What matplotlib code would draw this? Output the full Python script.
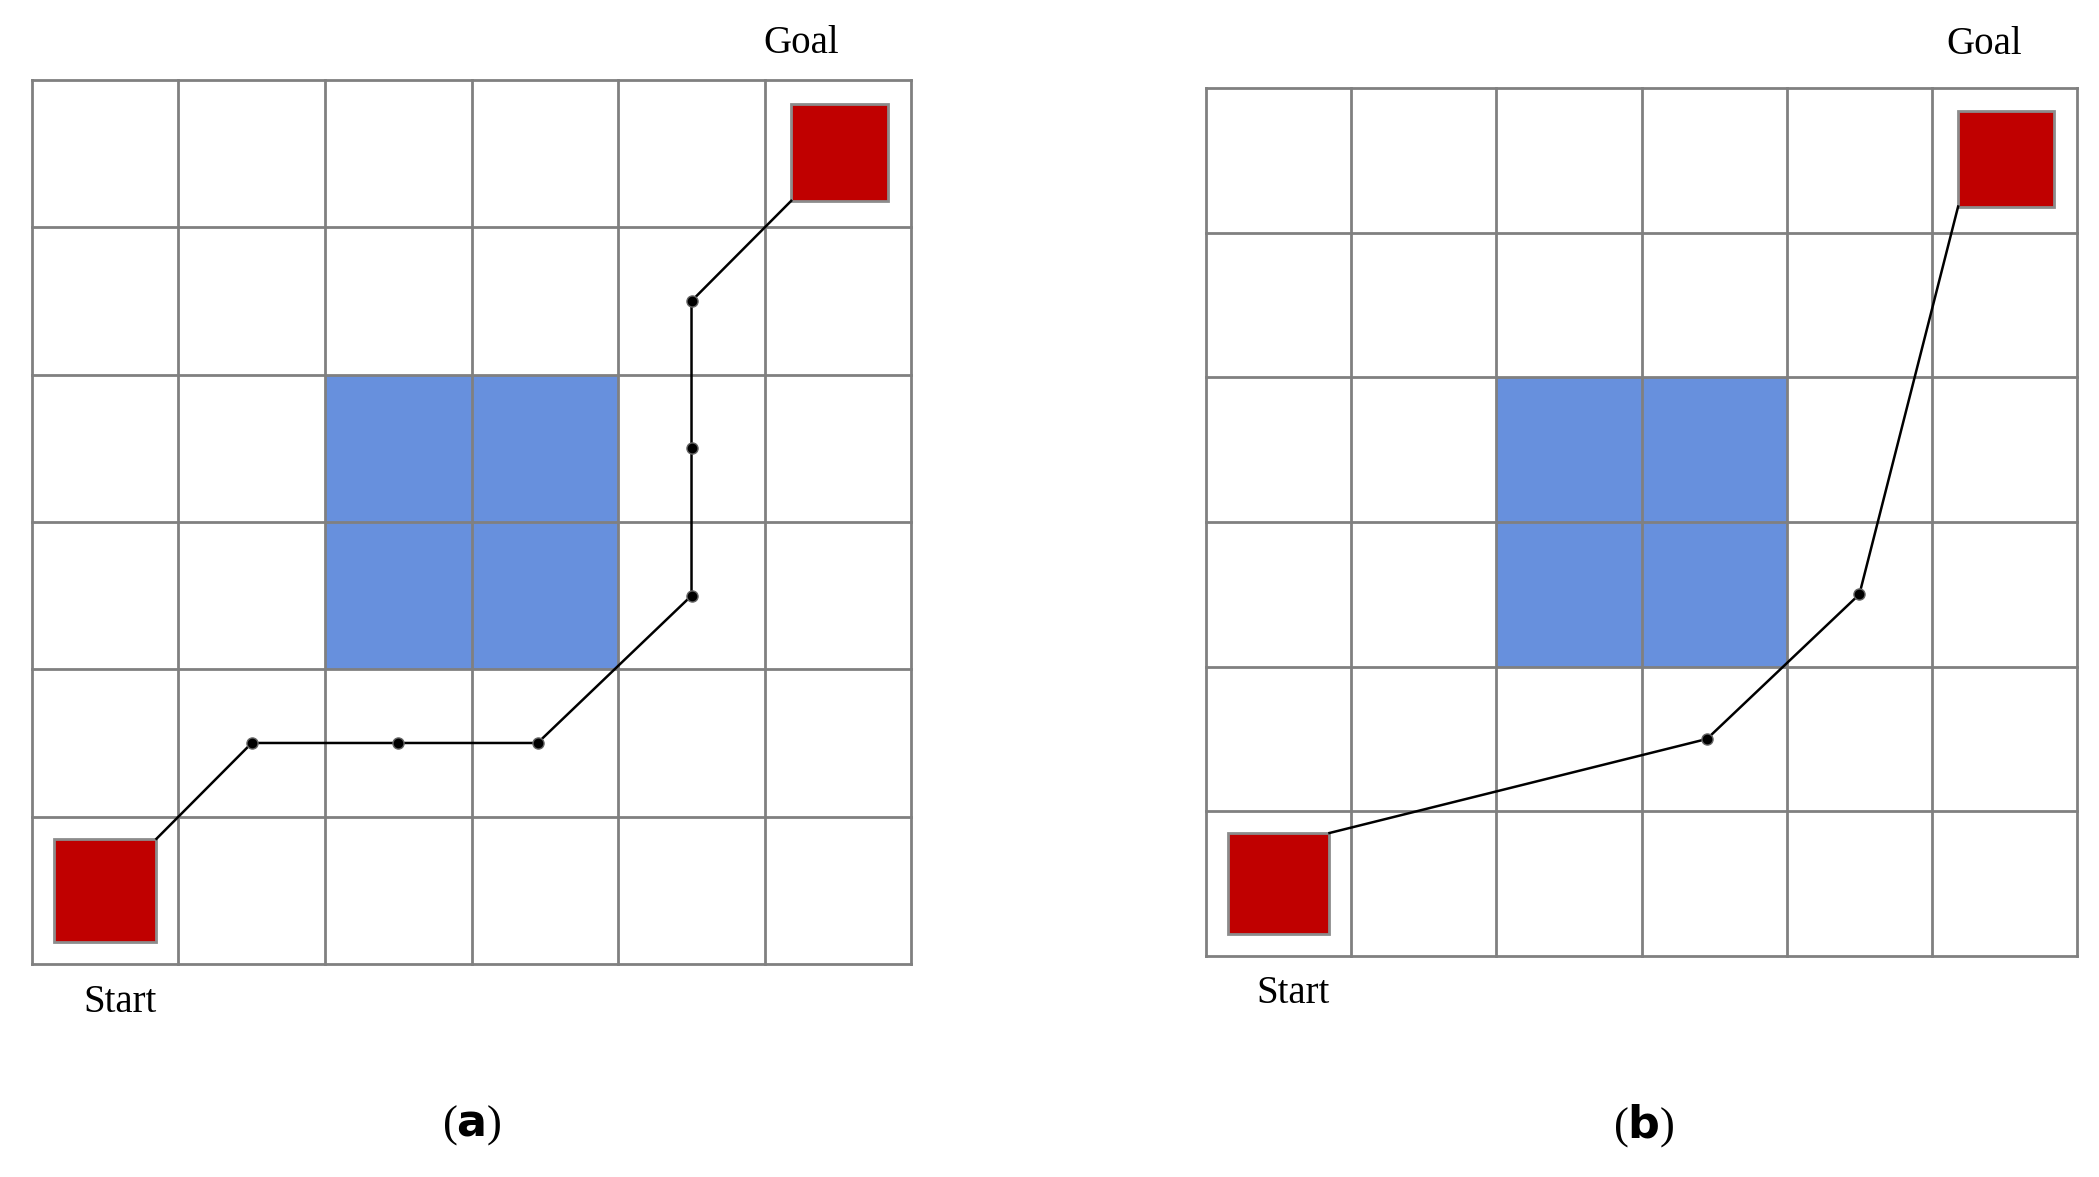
import matplotlib.pyplot as plt
from matplotlib.patches import Rectangle

N_CELLS = 6
OBSTACLE = [(2, 2), (3, 2), (2, 3), (3, 3)]
START_BOX = (0.15, 0.15, 0.7)
GOAL_BOX = (5.18, 5.18, 0.66)

path_a_x = [0.85, 1.5, 2.5, 3.45, 4.5, 4.5, 4.5, 5.18]
path_a_y = [0.85, 1.5, 1.5, 1.5, 2.5, 3.5, 4.5, 5.18]
path_b_x = [0.85, 3.45, 4.5, 5.18]
path_b_y = [0.85, 1.5, 2.5, 5.18]

SERIF = "Liberation Serif"


def draw_panel(ax, xs, ys, goal_xy, start_xy):
    for cx, cy in OBSTACLE:
        ax.add_patch(Rectangle((cx, cy), 1, 1, facecolor="#6790DD", edgecolor="none", zorder=1))
    for i in range(N_CELLS + 1):
        ax.plot([i, i], [0, N_CELLS], color="#808080", lw=2, zorder=2)
        ax.plot([0, N_CELLS], [i, i], color="#808080", lw=2, zorder=2)
    for x0, y0, s in (START_BOX, GOAL_BOX):
        ax.add_patch(Rectangle((x0, y0), s, s, facecolor="#C00000", edgecolor="#8c8c8c", lw=2, zorder=3))
    ax.plot(xs, ys, color="black", lw=1.8, zorder=4)
    ax.plot(xs[1:-1], ys[1:-1], "o", color="black", markersize=8,
            markeredgecolor="#666666", markeredgewidth=1, zorder=5)
    ax.text(*goal_xy, "Goal", fontsize=28, family=SERIF, ha="center", va="center")
    ax.text(*start_xy, "Start", fontsize=28, family=SERIF, ha="center", va="center")
    ax.set_xlim(0, N_CELLS)
    ax.set_ylim(0, N_CELLS)
    ax.axis("off")


fig = plt.figure(figsize=(20.99, 11.77), dpi=100)
ax_a = fig.add_axes([0.0152, 0.181, 0.419, 0.751])
ax_b = fig.add_axes([0.5746, 0.1878, 0.415, 0.7375])
for ax in (ax_a, ax_b):
    ax.set_clip_on(False)
draw_panel(ax_a, path_a_x, path_a_y, (5.25, 6.25), (0.6, -0.26))
draw_panel(ax_b, path_b_x, path_b_y, (5.36, 6.3), (0.6, -0.26))
for ax in (ax_a, ax_b):
    for artist in ax.get_children():
        artist.set_clip_on(False)

fig.text(0.225, 0.044, "(a)", fontsize=32, family=SERIF, ha="center", va="center")
fig.text(0.783, 0.044, "(b)", fontsize=32, family=SERIF, ha="center", va="center")
fig.texts[-2].set_text(r"($\mathbf{a}$)")
fig.texts[-1].set_text(r"($\mathbf{b}$)")
plt.rcParams["mathtext.fontset"] = "stix"
fig.savefig("out.png", dpi=100)
